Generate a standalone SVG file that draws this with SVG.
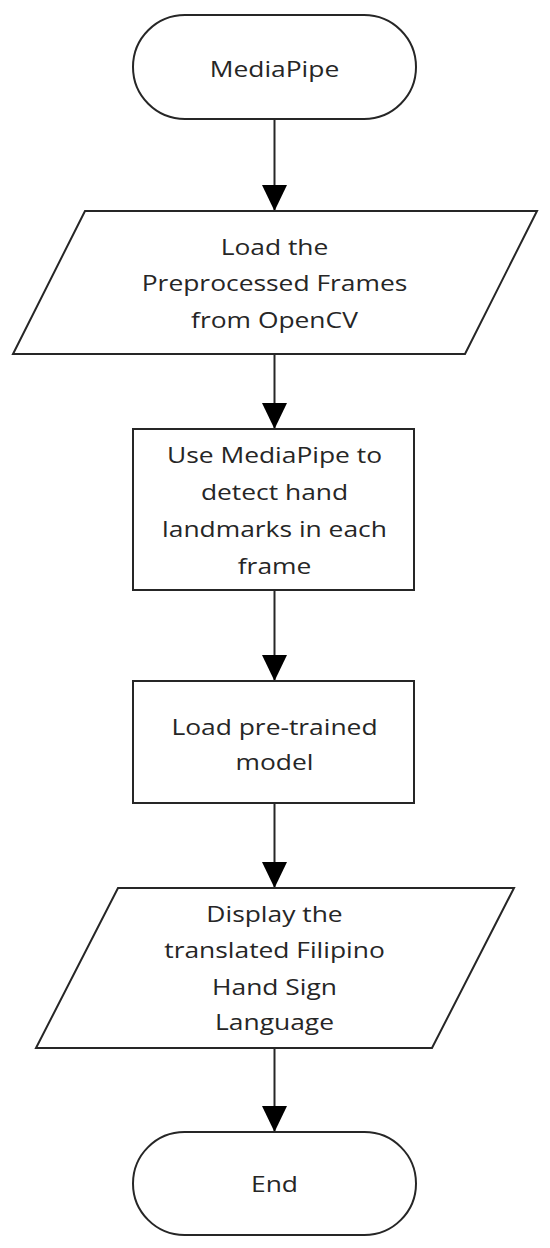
<svg xmlns="http://www.w3.org/2000/svg" width="550" height="1248" viewBox="0 0 550 1248">
<style>
.shape{fill:#fff;stroke:#262626;stroke-width:2}
.conn{fill:none;stroke:#262626;stroke-width:2}
.lbl{font-family:"Open Sans","Noto Sans","DejaVu Sans",sans-serif;font-size:22px;fill:#262626;text-anchor:middle}
</style>
<defs>
<marker id="arrow" markerUnits="userSpaceOnUse" viewBox="0 0 26 25" refX="26" refY="12.5" markerWidth="26" markerHeight="25" orient="auto">
<path d="M0,0 L26,12.5 L0,25 z" fill="#000"/>
</marker>
</defs>
<rect width="550" height="1248" fill="#fff"/>
<g id="connectors">
<line class="conn" x1="274.5" y1="119" x2="274.5" y2="211" marker-end="url(#arrow)"/>
<line class="conn" x1="274.5" y1="354" x2="274.5" y2="429" marker-end="url(#arrow)"/>
<line class="conn" x1="274.5" y1="590" x2="274.5" y2="681" marker-end="url(#arrow)"/>
<line class="conn" x1="274.5" y1="803" x2="274.5" y2="888" marker-end="url(#arrow)"/>
<line class="conn" x1="274.5" y1="1048" x2="274.5" y2="1132" marker-end="url(#arrow)"/>
</g>
<g id="start">
<rect class="shape" x="133" y="15" width="283" height="104" rx="52" ry="52"/>
<text class="lbl" transform="translate(274.5 0) scale(1.2 1)" x="0" y="77">MediaPipe</text>
</g>
<g id="load-frames">
<polygon class="shape" points="85,211 537,211 465,354 13,354"/>
<g class="lbl" transform="translate(274.5 0) scale(1.2 1)">
<text class="lbl" x="0" y="255">Load the</text>
<text class="lbl" x="0" y="291.5">Preprocessed Frames</text>
<text class="lbl" x="0" y="328">from OpenCV</text>
</g>
</g>
<g id="detect">
<rect class="shape" x="133" y="429" width="281" height="161"/>
<g transform="translate(274.5 0) scale(1.2 1)">
<text class="lbl" x="0" y="463">Use MediaPipe to</text>
<text class="lbl" x="0" y="500">detect hand</text>
<text class="lbl" x="0" y="537">landmarks in each</text>
<text class="lbl" x="0" y="574">frame</text>
</g>
</g>
<g id="load-model">
<rect class="shape" x="133" y="681" width="281" height="122"/>
<g transform="translate(274.5 0) scale(1.2 1)">
<text class="lbl" x="0" y="735">Load pre-trained</text>
<text class="lbl" x="0" y="770">model</text>
</g>
</g>
<g id="display">
<polygon class="shape" points="118,888 514,888 432,1048 36,1048"/>
<g transform="translate(274.5 0) scale(1.2 1)">
<text class="lbl" x="0" y="922">Display the</text>
<text class="lbl" x="0" y="958">translated Filipino</text>
<text class="lbl" x="0" y="995">Hand Sign</text>
<text class="lbl" x="0" y="1030">Language</text>
</g>
</g>
<g id="end">
<rect class="shape" x="133" y="1132" width="283" height="103" rx="51.5" ry="51.5"/>
<text class="lbl" transform="translate(274.5 0) scale(1.2 1)" x="0" y="1192">End</text>
</g>
</svg>
